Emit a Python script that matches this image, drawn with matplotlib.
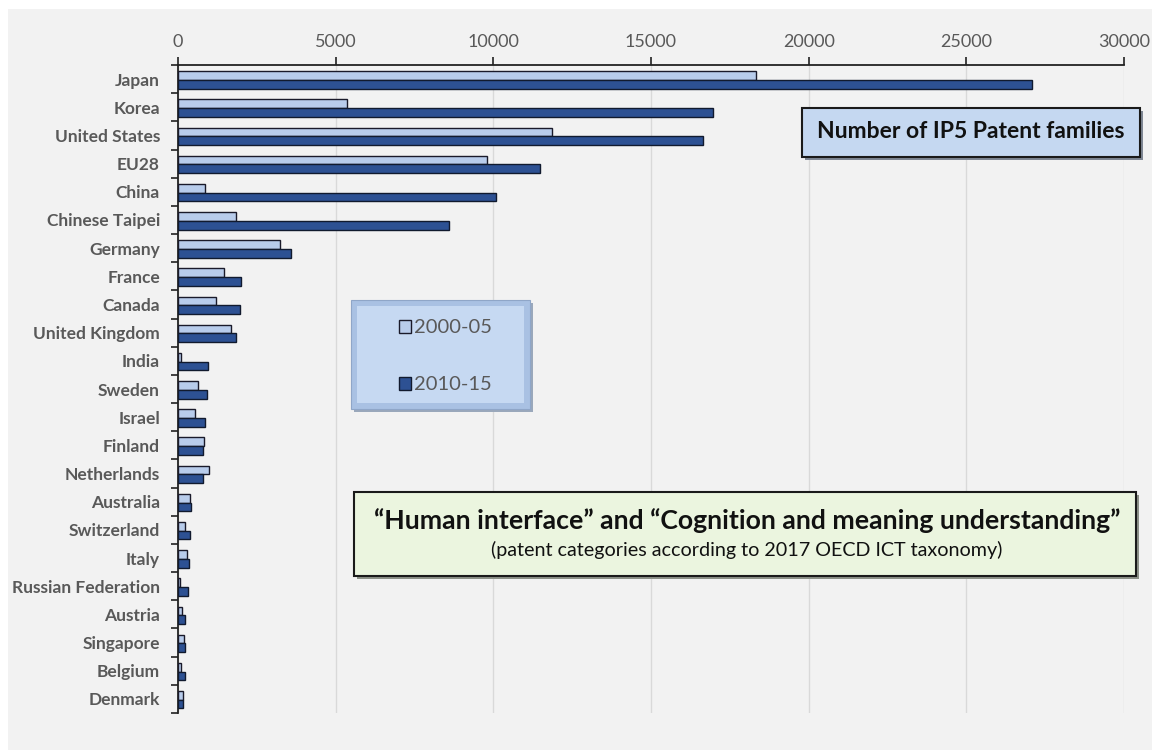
import matplotlib
matplotlib.use("Agg")
import matplotlib.pyplot as plt
from matplotlib.patches import Rectangle
import numpy as np

countries = ["Japan", "Korea", "United States", "EU28", "China", "Chinese Taipei",
             "Germany", "France", "Canada", "United Kingdom", "India", "Sweden",
             "Israel", "Finland", "Netherlands", "Australia", "Switzerland", "Italy",
             "Russian Federation", "Austria", "Singapore", "Belgium", "Denmark"]
v2000_05 = [18330, 5360, 11860, 9800, 860, 1840, 3230, 1460, 1200, 1680, 95, 630,
            540, 820, 980, 380, 220, 280, 70, 130, 180, 100, 160]
v2010_15 = [27080, 16970, 16650, 11480, 10080, 8590, 3580, 2000, 1970, 1840, 950, 920,
            860, 790, 790, 410, 380, 350, 310, 230, 210, 220, 160]
series_labels = ["2000-05", "2010-15"]
xticks = [0, 5000, 10000, 15000, 20000, 25000, 30000]

W, H = 1155, 755
FONT = "Lato"
plt.rcParams['font.family'] = [FONT, 'DejaVu Sans']

fig = plt.figure(figsize=(W / 100, H / 100), dpi=100)
fig.patch.set_facecolor("white")


def fx(x):
    return x / W


def fy(y):
    return 1 - y / H


def frect(x0, y0, x1, y1, **kw):
    r = Rectangle((fx(x0), fy(y1)), fx(x1) - fx(x0), fy(y0) - fy(y1),
                  transform=fig.transFigure, **kw)
    fig.patches.append(r)
    return r


# gray background panel
frect(8, 9, 1152, 750, facecolor="#f2f2f2", edgecolor="none", zorder=-5)

ax_l, ax_r, ax_t, ax_b = 178, 1124, 65, 713
ax = fig.add_axes([fx(ax_l), fy(ax_b), fx(ax_r) - fx(ax_l), fy(ax_t) - fy(ax_b)])
ax.set_facecolor("none")
ax.set_zorder(1)

light = "#b8cceb"
dark = "#2d5193"
y = np.arange(len(countries))
h = 0.31
ax.barh(y - h / 2 + 0.03, v2000_05, height=h, color=light, edgecolor="#1a1a2a",
        linewidth=1.0, zorder=3, label=series_labels[0])
ax.barh(y + h / 2 + 0.03, v2010_15, height=h, color=dark, edgecolor="#111a2e",
        linewidth=1.0, zorder=3, label=series_labels[1])

ax.set_xlim(0, 30000)
ax.set_ylim(len(countries) - 0.5, -0.5)
ax.xaxis.tick_top()
ax.set_xticks(xticks)
ax.set_xticklabels([str(t) for t in xticks])
ax.tick_params(axis="x", direction="out", length=5.5, width=1.2, color="#222222",
               labelsize=13, labelcolor="#595959", pad=5)
ax.set_yticks(y)
ax.set_yticklabels(countries, fontweight="bold")
ax.tick_params(axis="y", which="major", length=0, labelsize=12.5, labelcolor="#595959", pad=13)
ax.set_yticks(np.arange(-0.5, len(countries), 1), minor=True)
ax.tick_params(axis="y", which="minor", direction="out", length=5, width=1.2, color="#222222")

ax.grid(axis="x", color="#d9d9d9", linewidth=1.0, zorder=0)
for s in ["bottom", "right"]:
    ax.spines[s].set_visible(False)
for s in ["top", "left"]:
    ax.spines[s].set_color("#222222")
    ax.spines[s].set_linewidth(1.3)

# Legend box
frect(354, 303, 533, 412, facecolor="#9aa8bb", edgecolor="none", zorder=5)
frect(351, 300, 530, 409, facecolor="#a9c1e3", edgecolor="#8fa6c8", linewidth=0.8, zorder=6)
frect(357, 306, 524, 403, facecolor="#c6d9f2", edgecolor="none", zorder=7)
frect(399, 320, 411, 333, facecolor=light, edgecolor="#1a1a2a", linewidth=1.0, zorder=8)
frect(399, 377, 411, 390, facecolor=dark, edgecolor="#111a2e", linewidth=1.0, zorder=8)
fig.text(fx(414), fy(327), series_labels[0], fontsize=14.5, color="#595959",
         va="center", ha="left", zorder=9)
fig.text(fx(414), fy(384), series_labels[1], fontsize=14.5, color="#595959",
         va="center", ha="left", zorder=9)

# Title box: Number of IP5 Patent families
frect(805, 111, 1143, 160, facecolor="#7f8794", edgecolor="none", zorder=5)
frect(802, 108, 1140, 157, facecolor="#c5d8f1", edgecolor="#1a1a1a", linewidth=1.5, zorder=6)
fig.text(fx(971), fy(131), "Number of IP5 Patent families", fontsize=16.5, fontweight="bold",
         color="#111111", ha="center", va="center", zorder=9)

# Green box
frect(357, 495, 1139, 579, facecolor="#8c9188", edgecolor="none", zorder=5)
frect(354, 492, 1136, 576, facecolor="#ebf5df", edgecolor="#1a1a1a", linewidth=1.5, zorder=6)
fig.text(fx(747), fy(521), "\u201cHuman interface\u201d and \u201cCognition and meaning understanding\u201d",
         fontsize=19.2, fontweight="bold", color="#111111", ha="center", va="center", zorder=9)
fig.text(fx(747), fy(550), "(patent categories according to 2017 OECD ICT taxonomy)",
         fontsize=14.2, color="#111111", ha="center", va="center", zorder=9)

fig.savefig("out.png", dpi=100, facecolor="white")
